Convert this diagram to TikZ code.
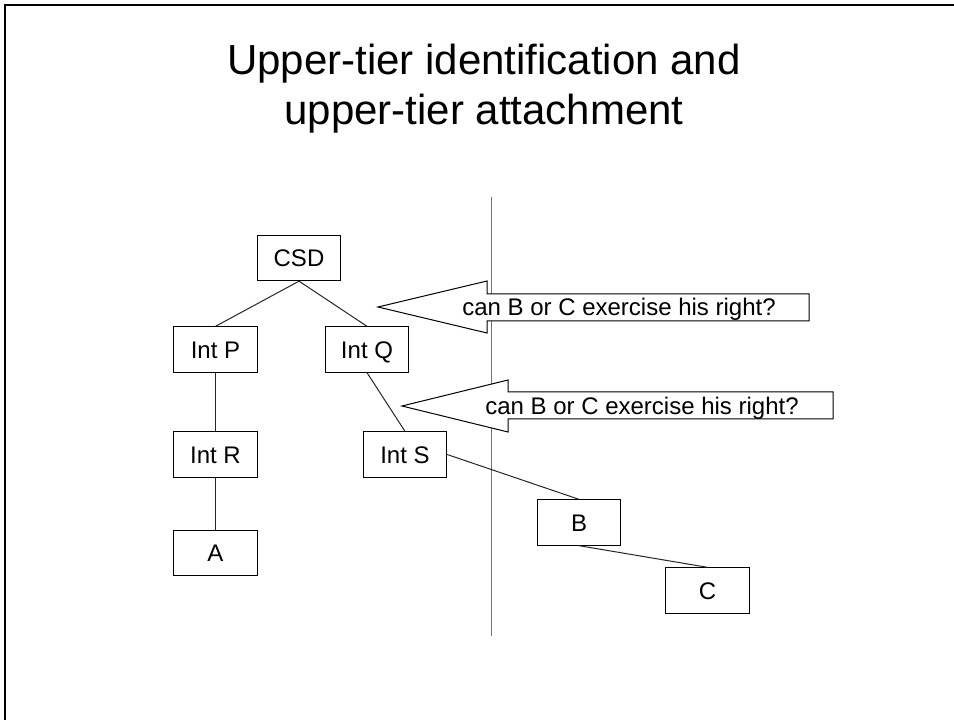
\documentclass[tikz,border=0pt]{standalone}
\usepackage{fontspec}
\setmainfont{Liberation Sans}
\begin{document}
\begin{tikzpicture}[x=0.75pt,y=-0.75pt,
  box/.style={draw=black, line width=0.75pt, fill=white, inner sep=0pt,
    text height=12.9pt, text depth=0pt,
    minimum width=62.5pt, minimum height=34pt, font=\fontsize{18}{21}\selectfont},
  link/.style={draw=black!85, line width=0.75pt},
  callout/.style={draw=black, line width=0.75pt, fill=white},
  note/.style={inner sep=0pt, text height=12.9pt, text depth=0pt,
    font=\fontsize{18}{21}\selectfont},
  titletext/.style={inner sep=0pt, anchor=base, font=\fontsize{31.5}{36}\selectfont}]
\useasboundingbox (0,0) rectangle (954,720);

% slide frame (left and top edges)
\draw[line width=1.5pt] (5,720) -- (5,5) -- (954,5);

% title
\node[titletext] (title1) at (484,75) {Upper-tier identification and};
\node[titletext] (title2) at (484,125) {upper-tier attachment};

% dividing line
\coordinate (divtop) at (491.5,197);
\coordinate (divbot) at (491.5,636);
\draw[draw=black!55, line width=0.75pt] (divtop) -- (divbot);

% holding chain
\node[box] (csd) at (299,258) {CSD};
\node[box] (p) at (215.5,349.5) {Int P};
\node[box] (q) at (367,349.5) {Int Q};
\node[box] (r) at (215.5,454.5) {Int R};
\node[box] (s) at (405,454.5) {Int S};
\node[box] (a) at (215.5,553) {A};
\node[box] (b) at (579,522.5) {B};
\node[box] (c) at (707.5,590.5) {C};

\draw[link] (csd.south) -- (p.north);
\draw[link] (csd.south) -- (q.north);
\draw[link] (p.south) -- (r.north);
\draw[link] (r.south) -- (a.north);
\draw[link] (q.south) -- (s.north);
\draw[link] (s.east) -- (b.north);
\draw[link] (b.south) -- (c.north);

% left-pointing callout arrows
\draw[callout] (378,307) -- (487,281) -- (487,294) -- (809,294) -- (809,321)
  -- (487,321) -- (487,333) -- cycle;
\node[note] (q1) at (619,307) {can B or C exercise his right?};

\draw[callout] (402,406) -- (508,380) -- (508,392) -- (833,392) -- (833,419)
  -- (508,419) -- (508,432) -- cycle;
\node[note] (q2) at (642,406) {can B or C exercise his right?};
\end{tikzpicture}
\end{document}
